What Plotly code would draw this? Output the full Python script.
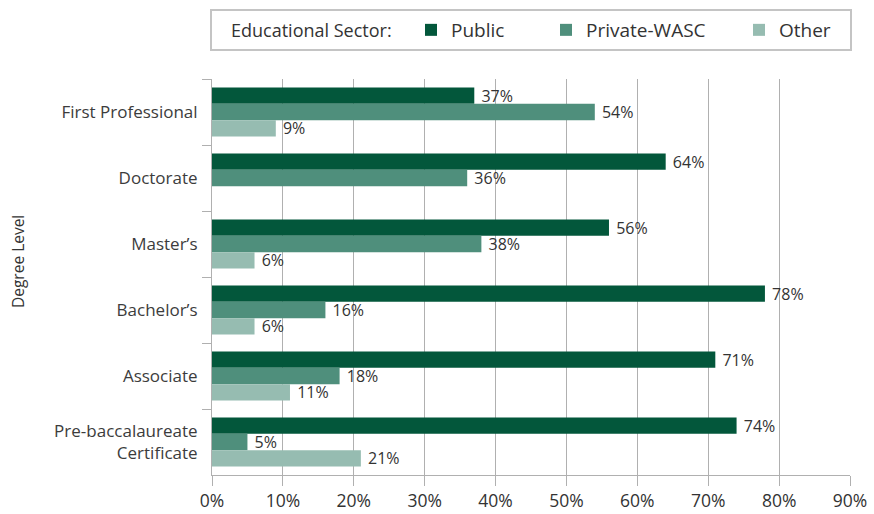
import plotly.graph_objects as go

categories = ["First Professional", "Doctorate", "Master’s", "Bachelor’s", "Associate",
              "Pre-baccalaureate<br>Certificate"]
public = [37, 64, 56, 78, 71, 74]
private_wasc = [54, 36, 38, 16, 18, 5]
other = [9, None, 6, 6, 11, 21]
x_ticks = [0, 10, 20, 30, 40, 50, 60, 70, 80, 90]

FONT = "Open Sans"
TXT = "#333333"

series = [
    ("Public", public, "#03573b", "legend"),
    ("Private-WASC", private_wasc, "#4f8f7c", "legend2"),
    ("Other", other, "#96bcb1", "legend3"),
]

fig = go.Figure()
for name, vals, color, leg in series:
    fig.add_trace(go.Bar(
        y=categories, x=vals, name=name, orientation="h",
        marker=dict(color=color, line=dict(width=0)),
        text=[("\u00a0" + f"{v}%") if v is not None else "" for v in vals],
        textposition="outside", constraintext="none", cliponaxis=False,
        textfont=dict(family=FONT, size=16, color=TXT),
        legend=leg, showlegend=True, hoverinfo="skip",
    ))

W, H = 874, 514
L, R, T, B = 212, 24, 79, 39
pw, ph = W - L - R, H - T - B

def px_x(px):
    return (px - L) / pw

def px_y(py):
    return (H - B - py) / ph

legend_common = dict(orientation="h", yanchor="middle", xanchor="left",
                     bgcolor="rgba(0,0,0,0)", borderwidth=0,
                     font=dict(family=FONT, size=19, color=TXT))

fig.update_layout(
    width=W, height=H,
    margin=dict(l=L, r=R, t=T, b=B, autoexpand=False),
    paper_bgcolor="white", plot_bgcolor="white",
    showlegend=True,
    barmode="group", bargap=0.26, bargroupgap=0,
    font=dict(family=FONT, color=TXT),
    legend=dict(x=px_x(411), y=px_y(30), **legend_common),
    legend2=dict(x=px_x(546), y=px_y(30), **legend_common),
    legend3=dict(x=px_x(739), y=px_y(30), **legend_common),
    xaxis=dict(range=[0, 90], tickvals=x_ticks, ticktext=[f"{v}%" for v in x_ticks],
               showgrid=True, gridcolor="#b0b0b0", gridwidth=1,
               showline=True, linecolor="#b0b0b0", linewidth=1,
               ticks="outside", ticklen=10, tickcolor="#b0b0b0",
               tickfont=dict(family=FONT, size=17.5, color=TXT), zeroline=False,
               automargin=False, fixedrange=True),
    yaxis=dict(autorange="reversed", tickson="boundaries", ticks="outside", ticklen=9,
               tickcolor="#b0b0b0", showline=True, linecolor="#b0b0b0", linewidth=1,
               showgrid=False, tickfont=dict(family=FONT, size=17, color="#3c3c3c"),
               ticklabelstandoff=10, automargin=False, fixedrange=True),
    shapes=[dict(type="rect", xref="paper", yref="paper",
                 x0=px_x(211), x1=px_x(851), y0=px_y(50), y1=px_y(10),
                 line=dict(color="#c4c4c4", width=2), fillcolor="rgba(0,0,0,0)")],
    annotations=[
        dict(text="Educational Sector:", xref="paper", yref="paper",
             x=px_x(229), y=px_y(30), xanchor="left", yanchor="middle", showarrow=False,
             font=dict(family=FONT, size=18, color=TXT)),
        dict(text="Degree Level", xref="paper", yref="paper", textangle=-90,
             x=px_x(18), y=px_y(262), xanchor="center", yanchor="middle", showarrow=False,
             font=dict(family=FONT, size=15.5, color=TXT)),
    ],
)

fig.write_html("out.html", config={"displayModeBar": False},
               post_script="document.body.style.margin='0';")
